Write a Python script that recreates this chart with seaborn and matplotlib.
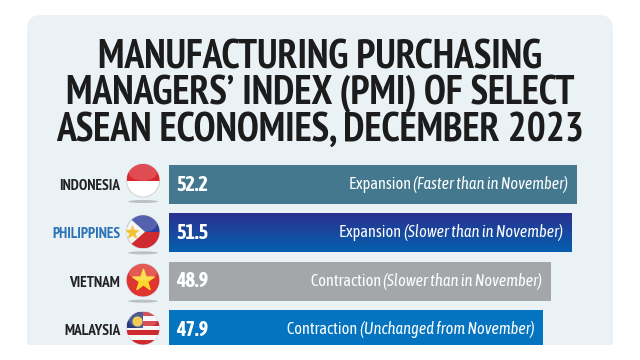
import numpy as np
import pandas as pd
import matplotlib.pyplot as plt
import seaborn as sns
from matplotlib.colors import LinearSegmentedColormap
from matplotlib.patches import Circle, Ellipse, FancyBboxPatch, Polygon, Rectangle

# chart data
countries = ['INDONESIA', 'PHILIPPINES', 'VIETNAM', 'MALAYSIA']
pmi = [52.2, 51.5, 48.9, 47.9]
status = ['Expansion', 'Expansion', 'Contraction', 'Contraction']
notes = ['(Faster than in November)', '(Slower than in November)',
         '(Slower than in November)', '(Unchanged from November)']
bar_colors = ['#43788f', '#0b4ea2', '#a4a7aa', '#0574c0']
label_colors = ['#222222', '#2a72b5', '#222222', '#222222']
title = 'MANUFACTURING PURCHASING\nMANAGERS\u2019 INDEX (PMI) OF SELECT\nASEAN ECONOMIES, DECEMBER 2023'

sns.set_style('white')
narrow = ['PT Sans Narrow', 'Asap Condensed', 'DejaVu Sans']
cond = ['Asap Condensed', 'DejaVu Sans']
plt.rcParams['font.family'] = cond

fig = plt.figure(figsize=(6.4, 3.6), dpi=100, facecolor='white')


def px_axes(left, top, right, bottom):
    return fig.add_axes([left / 640, 1 - bottom / 360, (right - left) / 640, (bottom - top) / 360])


# background panel, cut off flat at the bottom
bg = px_axes(0, 0, 640, 360)
bg.set_xlim(0, 640)
bg.set_ylim(360, 0)
bg.axis('off')
panel = FancyBboxPatch((27, 15), 586, 380, boxstyle='round,pad=0,rounding_size=14',
                       fc='#eaf2f6', ec='none')
bg.add_patch(panel)
panel.set_clip_path(Rectangle((0, 0), 640, 345, transform=bg.transData))

bg.text(320, 94, title, ha='center', va='center', fontsize=28.6, fontweight='bold',
        family=narrow, color='#1c1c1c', linespacing=0.945)

# bars
ax = px_axes(169, 160, 640, 345)
ax.patch.set_alpha(0)
df = pd.DataFrame({'country': countries, 'pmi': pmi})
sns.barplot(data=df, y='country', x='pmi', hue='country', palette=bar_colors,
            legend=False, width=0.81, saturation=1, linewidth=0, ax=ax)
ax.set_xlabel('')
ax.set_ylabel('')
ax.set_xticks([])
sns.despine(ax=ax, left=True, bottom=True, right=True, top=True)
ax.tick_params(axis='y', length=0, pad=35)
for lab, c in zip(ax.get_yticklabels(), label_colors):
    lab.set_color(c)
    lab.set_fontsize(11)
    lab.set_family(narrow)
    lab.set_fontweight('bold')

# philippines bar gets a vertical gradient
ph = ax.patches[1]
grad = ax.imshow(np.linspace(0, 1, 64)[:, None], aspect='auto', zorder=ph.get_zorder() + 0.1,
                 cmap=LinearSegmentedColormap.from_list('ph', ['#2b2f8f', '#0560ae']),
                 extent=(0, pmi[1], ph.get_y() + ph.get_height(), ph.get_y()))
grad.set_clip_path(ph)
ax.set_xlim(0, 471 / 7.816)
ax.set_ylim(3.32, -0.507)

# value and status text
fig.canvas.draw()
rend = fig.canvas.get_renderer()
for i, (v, s, n) in enumerate(zip(pmi, status, notes)):
    ax.annotate(f'{v}', (0, i), xytext=(5, 0), textcoords='offset points', ha='left', va='center',
                color='white', fontsize=14.5, fontweight='bold', zorder=5)
    t = ax.annotate(n, (v, i), xytext=(-6.5, 0), textcoords='offset points', ha='right', va='center',
                    color='white', fontsize=11.8, style='italic', zorder=5)
    w = t.get_window_extent(rend).width * 72 / fig.dpi
    ax.annotate(s + ' ', (v, i), xytext=(-6.5 - w, 0), textcoords='offset points', ha='right', va='center',
                color='white', fontsize=11.8, zorder=5)

# flags, placed next to the bars
fx = px_axes(0, 0, 640, 360)
fx.set_xlim(0, 640)
fx.set_ylim(360, 0)
fx.axis('off')
fx.patch.set_alpha(0)
R = 16.5
flag_shift = [-4, -1, -1, -1.5]
flag_y = [360 - ax.transData.transform((0, i))[1] + flag_shift[i] for i in range(4)]


def clipped(patch, clip):
    fx.add_patch(patch)
    patch.set_clip_path(clip)


for i, y in enumerate(flag_y):
    x = 143
    # the last shadow falls below the cut-off panel
    if i < 3:
        fx.add_patch(Ellipse((x, y + R + 4.5), 2 * R * 0.9, 3, fc='#9aa0a3', ec='none', alpha=0.6))
    disc = Circle((x, y), R, fc='white', ec='#d3d6d8', lw=0.8, zorder=2)
    fx.add_patch(disc)
    if i == 0:
        clipped(Rectangle((x - R, y - R), 2 * R, R, fc='#d8262c', ec='none', zorder=3), disc)
    elif i == 1:
        clipped(Rectangle((x - R, y - R), 2 * R, R, fc='#2f3f9e', ec='none', zorder=3), disc)
        clipped(Rectangle((x - R, y), 2 * R, R, fc='#cf2a30', ec='none', zorder=3), disc)
        clipped(Polygon([(x - R, y - R), (x + 2, y), (x - R, y + R)], fc='#f4f4f0', ec='none', zorder=4), disc)
        fx.scatter([x - 11], [y], marker='*', s=80, color='#f2c230', zorder=5)
    elif i == 2:
        clipped(Circle((x, y), R, fc='#e0352f', ec='none', zorder=3), disc)
        fx.scatter([x], [y], marker='*', s=260, color='#fbd92b', zorder=5)
    else:
        for k in range(7):
            c = '#cf2a30' if k % 2 == 0 else '#f6f6f6'
            clipped(Rectangle((x - R, y - R + k * 2 * R / 7), 2 * R, 2 * R / 7, fc=c, ec='none', zorder=3), disc)
        clipped(Rectangle((x - R, y - R), R, R, fc='#27397f', ec='none', zorder=4), disc)
        fx.scatter([x - 6], [y - 7], marker='o', s=40, color='#f2c230', zorder=5)
    # soft highlight on the top of the globe
    clipped(Ellipse((x, y - 8), 2 * R * 0.85, R, fc='white', ec='none', alpha=0.18, zorder=6), disc)

fig.savefig('out.png', dpi=100)
